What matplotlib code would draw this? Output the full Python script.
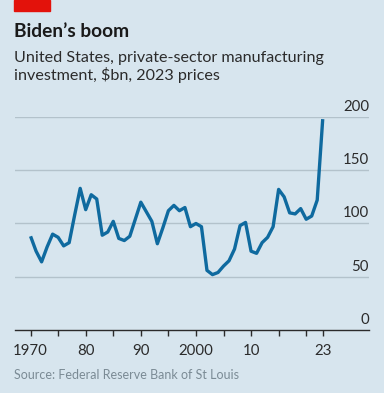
import matplotlib
matplotlib.use("Agg")
import matplotlib.pyplot as plt
from matplotlib.patches import Rectangle

# private-sector manufacturing investment, $bn, 2023 prices
years = list(range(1970, 2024))
values = [88, 74, 64, 78, 90, 87, 79, 82, 108, 133,
          113, 127, 123, 89, 92, 102, 86, 84, 88, 104,
          120, 111, 102, 81, 96, 112, 117, 112, 115, 97,
          100, 97, 56, 52, 54, 60, 65, 76, 98, 101,
          74, 72, 82, 87, 97, 132, 125, 110, 109, 114,
          104, 107, 122, 198]

tick_years = [1970, 1975, 1980, 1985, 1990, 1995, 2000, 2005, 2010, 2015, 2020, 2023]
label_years = [1970, 1980, 1990, 2000, 2010, 2023]
label_text = ["1970", "80", "90", "2000", "10", "23"]
y_ticks = [0, 50, 100, 150, 200]

bg = "#d7e5ee"
blue = "#0f6a9f"
grid = "#b3c2cb"
dark = "#2b2b2b"

plt.rcParams["font.family"] = ["Lato", "DejaVu Sans"]

fig = plt.figure(figsize=(3.84, 3.93), dpi=100, facecolor=bg)
ax = fig.add_axes([0.038, 0.1603, 0.923, 0.542])
ax.set_facecolor(bg)

ax.set_xlim(1967.1, 2031.4)
ax.set_ylim(0, 200)

for v in y_ticks[1:]:
    ax.axhline(v, color=grid, lw=1.0, zorder=1)
    ax.text(2031.4, v + 3, str(v), ha="right", va="bottom", fontsize=10.8, color=dark)
ax.text(2031.4, 3, "0", ha="right", va="bottom", fontsize=10.8, color=dark)

ax.plot(years, values, color=blue, lw=2.4, zorder=3, clip_on=False,
        solid_joinstyle="round", solid_capstyle="butt")

for s in ["top", "right", "left"]:
    ax.spines[s].set_visible(False)
ax.spines["bottom"].set_color(dark)
ax.spines["bottom"].set_linewidth(1.0)

ax.set_yticks([])
ax.set_xticks(tick_years)
ax.set_xticklabels(["" for t in tick_years])
ax.tick_params(axis="x", length=4.5, width=1.0, color=dark)
for yr, lab in zip(label_years, label_text):
    ax.annotate(lab, xy=(yr, 0), xytext=(0, -10), textcoords="offset points",
                ha="center", va="top", fontsize=10.8, color=dark)

fig.patches.append(Rectangle((14 / 384, 1 - 11 / 393), 36 / 384, 11 / 393,
                             transform=fig.transFigure, color="#e3120b"))
fig.text(14 / 384, 1 - 37 / 393, "Biden\u2019s boom", fontsize=13.8,
         fontweight="bold", color="#1a1a1a", va="baseline")
fig.text(14 / 384, 1 - 62 / 393, "United States, private-sector manufacturing",
         fontsize=11.6, color=dark, va="baseline")
fig.text(14 / 384, 1 - 80 / 393, "investment, $bn, 2023 prices",
         fontsize=11.6, color=dark, va="baseline")
fig.text(14 / 384, 1 - 379 / 393, "Source: Federal Reserve Bank of St Louis",
         fontsize=9, color="#7b8b95", va="baseline")

fig.savefig("out.png", dpi=100, facecolor=bg)
